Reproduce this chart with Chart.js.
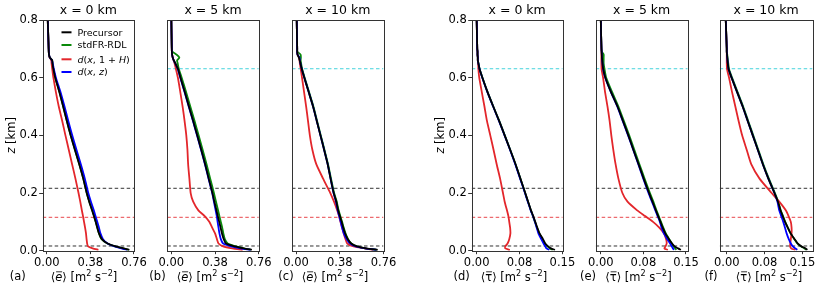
<!DOCTYPE html>
<html><head><meta charset="utf-8">
<script src="https://cdn.jsdelivr.net/npm/chart.js@4.4.1/dist/chart.umd.min.js"></script>
<style>
html,body{margin:0;padding:0;background:#fff;}
#wrap{position:relative;width:831px;height:290px;overflow:hidden;background:#fff;}
#wrap canvas{position:absolute;left:0;top:0;}
</style></head><body><div id="wrap"></div>
<script>
// ---------------- DATA ----------------
const Z = [0.003,0.008,0.015,0.025,0.04,0.06,0.08,0.1,0.12,0.14,0.17,0.2,0.25,0.3,0.35,0.4,0.45,0.5,0.55,0.6,0.63,0.65,0.66,0.67,0.68,0.69,0.7,0.75,0.8];
const SERIES_NAMES = ['Precursor','stdFR-RDL','d(x,1+H)','d(x,z)'];
const PANEL_TITLES = ['x = 0 km','x = 5 km','x = 10 km','x = 0 km','x = 5 km','x = 10 km'];
const PANEL_LETTERS = ['(a)','(b)','(c)','(d)','(e)','(f)'];
const E_TICKS = [0, 0.38, 0.76];
const E_TICK_LABELS = ['0.00','0.38','0.76'];
const T_TICKS = [0, 0.075, 0.15];
const T_TICK_LABELS = ['0.00','0.08','0.15'];
const Z_TICKS = [0, 0.2, 0.4, 0.6, 0.8];
const Z_TICK_LABELS = ['0.0','0.2','0.4','0.6','0.8'];
const Z_BLACK_DASH = [0.0163, 0.2164];
const Z_RED_DASH = [0.1158];
const Z_CYAN_DASH = [0.631];

// panel (a) TKE, x = 0 km
const A_PRE = [0.72,0.67,0.60,0.53,0.48,0.455,0.44,0.426,0.411,0.395,0.37,0.348,0.318,0.283,0.245,0.208,0.175,0.143,0.11,0.074,0.058,0.05,0.048,0.027,0.02,0.018,0.017,0.013,0.009];
const A_STD = [0.715,0.665,0.595,0.528,0.478,0.455,0.441,0.427,0.412,0.396,0.371,0.349,0.319,0.284,0.246,0.209,0.176,0.144,0.111,0.075,0.058,0.05,0.047,0.027,0.02,0.018,0.017,0.013,0.009];
const A_D1H = [0.45,0.40,0.36,0.352,0.347,0.342,0.334,0.325,0.316,0.306,0.292,0.277,0.25,0.221,0.192,0.163,0.135,0.105,0.08,0.058,0.048,0.042,0.04,0.025,0.02,0.018,0.017,0.013,0.009];
const A_DXZ = [0.70,0.65,0.59,0.53,0.49,0.468,0.455,0.44,0.425,0.41,0.385,0.362,0.332,0.297,0.259,0.222,0.188,0.155,0.12,0.08,0.062,0.052,0.046,0.027,0.02,0.018,0.017,0.013,0.009];
// panel (b) TKE, x = 5 km
const B_PRE = [0.70,0.63,0.55,0.475,0.455,0.44,0.428,0.416,0.404,0.392,0.374,0.357,0.325,0.294,0.26,0.225,0.19,0.153,0.117,0.08,0.058,0.035,0.022,0.012,0.007,0.005,0.004,0.002,0.0];
const B_STD = [0.69,0.63,0.56,0.49,0.465,0.452,0.442,0.43,0.418,0.406,0.388,0.37,0.338,0.306,0.272,0.237,0.202,0.165,0.128,0.09,0.065,0.055,0.05,0.07,0.045,0.01,0.005,0.002,0.0];
const B_D1H = [0.62,0.53,0.45,0.41,0.396,0.38,0.355,0.33,0.29,0.235,0.19,0.168,0.157,0.146,0.14,0.13,0.115,0.098,0.078,0.057,0.04,0.028,0.02,0.012,0.007,0.005,0.004,0.002,0.0];
const B_DXZ = [0.69,0.60,0.52,0.45,0.43,0.418,0.41,0.402,0.395,0.385,0.37,0.355,0.323,0.292,0.258,0.223,0.188,0.151,0.115,0.078,0.056,0.034,0.021,0.012,0.007,0.005,0.004,0.002,0.0];
// panel (c) TKE, x = 10 km
const C_PRE = [0.71,0.61,0.53,0.48,0.45,0.426,0.41,0.396,0.381,0.366,0.35,0.327,0.3,0.275,0.244,0.212,0.18,0.148,0.11,0.072,0.05,0.038,0.032,0.025,0.013,0.01,0.01,0.008,0.006];
const C_STD = [0.70,0.60,0.53,0.48,0.452,0.43,0.414,0.4,0.385,0.37,0.354,0.331,0.304,0.278,0.247,0.215,0.183,0.151,0.113,0.075,0.053,0.044,0.04,0.042,0.04,0.012,0.01,0.008,0.006];
const C_D1H = [0.67,0.597,0.5,0.445,0.43,0.414,0.4,0.386,0.374,0.358,0.33,0.298,0.235,0.176,0.142,0.12,0.104,0.088,0.07,0.052,0.041,0.033,0.03,0.025,0.013,0.01,0.01,0.008,0.006];
const C_DXZ = [0.70,0.60,0.52,0.47,0.44,0.415,0.4,0.388,0.375,0.362,0.347,0.326,0.3,0.275,0.244,0.212,0.18,0.148,0.11,0.072,0.05,0.038,0.033,0.03,0.013,0.01,0.01,0.008,0.006];
// panel (d) stress, x = 0 km
const D_PRE = [0.137,0.130,0.125,0.120,0.116,0.110,0.106,0.1025,0.099,0.095,0.09,0.085,0.0765,0.068,0.0586,0.049,0.0393,0.029,0.019,0.01,0.005,0.003,0.002,0.002,0.0015,0.0015,0.001,0.0005,0.0];
const D_STD = [0.133,0.128,0.124,0.119,0.115,0.1095,0.1055,0.102,0.0985,0.0948,0.0898,0.0848,0.0765,0.068,0.0587,0.0492,0.0395,0.0292,0.0192,0.0102,0.0052,0.003,0.002,0.002,0.0015,0.0015,0.001,0.0005,0.0];
const D_D1H = [0.058,0.05,0.05,0.054,0.057,0.059,0.0585,0.057,0.0555,0.053,0.049,0.046,0.041,0.035,0.0295,0.0238,0.018,0.0136,0.009,0.0045,0.003,0.0025,0.002,0.002,0.0015,0.0015,0.001,0.0005,0.0];
const D_DXZ = [0.127,0.122,0.12,0.117,0.113,0.108,0.105,0.102,0.0985,0.0945,0.0895,0.0845,0.076,0.0675,0.0583,0.0488,0.039,0.0288,0.0188,0.0098,0.005,0.003,0.002,0.002,0.0015,0.0015,0.001,0.0005,0.0];
// panel (e) stress, x = 5 km
const E_PRE = [0.141,0.136,0.13,0.1255,0.12,0.1135,0.109,0.105,0.101,0.097,0.091,0.085,0.0755,0.0665,0.0573,0.0485,0.039,0.0295,0.018,0.008,0.0042,0.003,0.0025,0.002,0.0018,0.0015,0.0012,0.0005,0.0];
const E_STD = [0.133,0.131,0.128,0.125,0.1205,0.1145,0.11,0.106,0.102,0.098,0.0925,0.0865,0.077,0.068,0.059,0.05,0.0405,0.031,0.02,0.0095,0.0065,0.005,0.005,0.005,0.005,0.002,0.0012,0.0005,0.0];
const E_D1H = [0.118,0.112,0.114,0.116,0.115,0.111,0.103,0.092,0.078,0.064,0.047,0.038,0.031,0.026,0.022,0.0185,0.0155,0.0118,0.0075,0.004,0.0013,0.001,0.001,0.001,0.001,0.001,0.001,0.0005,0.0];
const E_DXZ = [0.129,0.127,0.125,0.122,0.117,0.111,0.107,0.104,0.1,0.096,0.09,0.084,0.0748,0.066,0.057,0.048,0.0385,0.029,0.0178,0.0078,0.004,0.003,0.0025,0.002,0.0018,0.0015,0.0012,0.0005,0.0];
// panel (f) stress, x = 10 km
const F_PRE = [0.16,0.156,0.148,0.1405,0.1345,0.1267,0.121,0.1155,0.111,0.1065,0.1015,0.0945,0.0825,0.0715,0.0615,0.0515,0.0415,0.0315,0.0205,0.0095,0.0035,0.002,0.0015,0.001,0.0005,0.0,0.0,-0.001,-0.002];
const F_STD = [0.158,0.154,0.147,0.14,0.134,0.1265,0.121,0.116,0.1115,0.107,0.102,0.0955,0.0835,0.0725,0.0625,0.0525,0.0425,0.0325,0.0215,0.0105,0.0045,0.003,0.002,0.0015,0.001,0.0,0.0,-0.001,-0.002];
const F_D1H = [0.136,0.128,0.1255,0.126,0.127,0.1285,0.1285,0.127,0.1225,0.117,0.104,0.089,0.065,0.0485,0.0395,0.0305,0.0235,0.017,0.0105,0.0045,0.0005,0.0,0.0,0.0,0.0,0.0,0.0,-0.001,-0.002];
const F_DXZ = [0.14,0.136,0.131,0.127,0.123,0.1187,0.1155,0.112,0.108,0.104,0.1005,0.0945,0.0825,0.0715,0.0615,0.0515,0.0415,0.0315,0.0205,0.0095,0.0035,0.002,0.0015,0.001,0.0005,0.0,0.0,-0.001,-0.002];

// ---------------- LAYOUT / STYLE ----------------
const W = 831, H = 290;
const TOP = 20, BOTTOM = 250.7;
const FAM = '"DejaVu Sans", sans-serif';
const COLORS = ['#000000', '#0a8a0a', '#e3262b', '#0000ff'];
const DRAW_ORDER = [0, 3, 2, 1];
const PANELS = [
  {series:[A_PRE,A_STD,A_D1H,A_DXZ], kind:'e', L:42.7,  R:134,   xmin:-0.035, xmax:0.76,  yLabels:true,  cyan:false, legend:true,  letterX:17.7, labelX:84},
  {series:[B_PRE,B_STD,B_D1H,B_DXZ], kind:'e', L:167.3, R:258.8, xmin:-0.035, xmax:0.76,  yLabels:false, cyan:true,  legend:false, letterX:157.5, labelX:210},
  {series:[C_PRE,C_STD,C_D1H,C_DXZ], kind:'e', L:292,   R:383.5, xmin:-0.035, xmax:0.76,  yLabels:false, cyan:true,  legend:false, letterX:286, labelX:335},
  {series:[D_PRE,D_STD,D_D1H,D_DXZ], kind:'t', L:471.7, R:562.7, xmin:-0.0087,xmax:0.1505,yLabels:true,  cyan:true,  legend:false, letterX:461.7, labelX:514},
  {series:[E_PRE,E_STD,E_D1H,E_DXZ], kind:'t', L:595.7, R:687.7, xmin:-0.009, xmax:0.153, yLabels:false, cyan:true,  legend:false, letterX:588, labelX:638.5},
  {series:[F_PRE,F_STD,F_D1H,F_DXZ], kind:'t', L:719.7, R:812.5, xmin:-0.014, xmax:0.170, yLabels:false, cyan:true,  legend:false, letterX:711, labelX:769}
];

const E_LABEL = [{t:'⟨'},{t:'e',it:true,bar:true},{t:'⟩ [m'},{t:'2',sup:true},{t:' s'},{t:'−2',sup:true},{t:']'}];
const T_LABEL = [{t:'⟨'},{t:'τ',bar:true},{t:'⟩ [m'},{t:'2',sup:true},{t:' s'},{t:'−2',sup:true},{t:']'}];
const Z_LABEL = [{t:'z',it:true},{t:' [km]'}];
const LEGEND_SEGS = [
  [{t:'Precursor'}],
  [{t:'stdFR-RDL'}],
  [{t:'d',it:true},{t:'('},{t:'x',it:true},{t:', 1 + '},{t:'H',it:true},{t:')'}],
  [{t:'d',it:true},{t:'('},{t:'x',it:true},{t:', '},{t:'z',it:true},{t:')'}]
];
const LEGEND_ROWS = [32.3, 45, 59.3, 72];

function drawRich(ctx, segs, x, baseline, size, align) {
  let w = 0;
  const parts = segs.map(s => {
    const sz = s.sup ? size * 0.7 : size;
    const font = (s.it ? 'italic ' : '') + sz + 'px ' + FAM;
    ctx.font = font;
    const sw = ctx.measureText(s.t).width;
    w += sw;
    return {s, font, sw};
  });
  let cx = align === 'center' ? x - w / 2 : (align === 'right' ? x - w : x);
  ctx.textAlign = 'left';
  ctx.textBaseline = 'alphabetic';
  ctx.fillStyle = '#000';
  for (const p of parts) {
    ctx.font = p.font;
    const yy = p.s.sup ? baseline - size * 0.4 : baseline;
    ctx.fillText(p.s.t, cx, yy);
    if (p.s.bar) {
      ctx.save();
      ctx.strokeStyle = '#000';
      ctx.lineWidth = Math.max(0.8, size * 0.06);
      ctx.beginPath();
      ctx.moveTo(cx + p.sw * 0.12, baseline - size * 0.8);
      ctx.lineTo(cx + p.sw * 0.98, baseline - size * 0.8);
      ctx.stroke();
      ctx.restore();
    }
    cx += p.sw;
  }
}

const wrap = document.getElementById('wrap');
PANELS.forEach((P, idx) => {
  const cv = document.createElement('canvas');
  cv.width = W; cv.height = H;
  cv.style.width = W + 'px'; cv.style.height = H + 'px';
  wrap.appendChild(cv);
  const isE = P.kind === 'e';
  const xt = isE ? E_TICKS : T_TICKS;
  const xtl = isE ? E_TICK_LABELS : T_TICK_LABELS;

  const datasets = P.series.map((vals, k) => ({
    label: SERIES_NAMES[k],
    data: Z.map((z, i) => ({x: vals[i], y: z})),
    borderColor: COLORS[k],
    backgroundColor: COLORS[k],
    borderWidth: 1.8,
    pointRadius: 0,
    showLine: true,
    fill: false,
    tension: 0.2,
    order: DRAW_ORDER[k]
  }));
  const hl = (z, color) => ({
    label: '_h',
    data: [{x: P.xmin, y: z}, {x: P.xmax, y: z}],
    borderColor: color, borderWidth: 1, borderDash: [3.5, 2.5],
    pointRadius: 0, showLine: true, fill: false, order: 10
  });
  Z_BLACK_DASH.forEach(z => datasets.push(hl(z, '#333333')));
  Z_RED_DASH.forEach(z => datasets.push(hl(z, '#e8474c')));
  if (P.cyan) Z_CYAN_DASH.forEach(z => datasets.push(hl(z, '#45d3dc')));

  const annot = {
    id: 'annot' + idx,
    afterDatasetsDraw(chart) {
      const ctx = chart.ctx, a = chart.chartArea;
      ctx.save();
      ctx.strokeStyle = '#333';
      ctx.lineWidth = 1;
      const l = Math.round(a.left) + 0.5, t = Math.round(a.top) + 0.5;
      const r = Math.round(a.right) + 0.5, b = Math.round(a.bottom) + 0.5;
      ctx.strokeRect(l, t, r - l, b - t);
      ctx.restore();
    },
    afterDraw(chart) {
      const ctx = chart.ctx, a = chart.chartArea;
      ctx.save();
      ctx.fillStyle = '#000';
      ctx.font = '12.5px ' + FAM;
      ctx.textAlign = 'center';
      ctx.textBaseline = 'middle';
      ctx.fillText(PANEL_TITLES[idx], (a.left + a.right) / 2, 10.7);
      ctx.font = '11.5px ' + FAM;
      ctx.fillText(PANEL_LETTERS[idx], P.letterX, 277);
      drawRich(ctx, isE ? E_LABEL : T_LABEL, P.labelX, 281, 11.5, 'center');
      if (P.yLabels) {
        ctx.save();
        ctx.translate(P.L - 31.5, (a.top + a.bottom) / 2);
        ctx.rotate(-Math.PI / 2);
        drawRich(ctx, Z_LABEL, 0, 4, 11.5, 'center');
        ctx.restore();
      }
      if (P.legend) {
        [0, 1, 2, 3].forEach(k => {
          const y = LEGEND_ROWS[k];
          ctx.strokeStyle = COLORS[k];
          ctx.lineWidth = 2;
          ctx.beginPath();
          ctx.moveTo(61.5, y); ctx.lineTo(71.5, y);
          ctx.stroke();
          drawRich(ctx, LEGEND_SEGS[k], 77.5, y + 3.4, 9.5, 'left');
        });
      }
      ctx.restore();
    }
  };

  new Chart(cv, {
    type: 'scatter',
    data: {datasets},
    options: {
      responsive: false,
      animation: false,
      devicePixelRatio: 1,
      events: [],
      layout: {padding: {left: P.L - 40, right: W - P.R, top: TOP, bottom: 0}},
      plugins: {legend: {display: false}, tooltip: {enabled: false}, title: {display: false}},
      scales: {
        x: {
          type: 'linear', min: P.xmin, max: P.xmax,
          afterBuildTicks: s => { s.ticks = xt.map(v => ({value: v})); },
          afterFit: s => { s.height = H - BOTTOM; s.paddingLeft = 0; s.paddingRight = 0; },
          ticks: {autoSkip: false, maxRotation: 0, minRotation: 0, padding: 1.5, color: '#000',
                  font: {family: FAM, size: 11.5}, callback: (v, i) => xtl[i]},
          grid: {drawOnChartArea: false, drawTicks: true, tickLength: 3.5, color: '#333', lineWidth: 1},
          border: {display: false}
        },
        y: {
          type: 'linear', min: 0, max: 0.8,
          afterBuildTicks: s => { s.ticks = Z_TICKS.map(v => ({value: v})); },
          afterFit: s => { s.width = 40; s.paddingTop = 0; s.paddingBottom = 0; },
          ticks: {display: P.yLabels, autoSkip: false, padding: 1.5, color: '#000',
                  font: {family: FAM, size: 11.5}, callback: (v, i) => Z_TICK_LABELS[i]},
          grid: {drawOnChartArea: false, drawTicks: P.yLabels, tickLength: 3.5, color: '#333', lineWidth: 1},
          border: {display: false}
        }
      }
    },
    plugins: [annot]
  });
});
</script>
</body></html>
